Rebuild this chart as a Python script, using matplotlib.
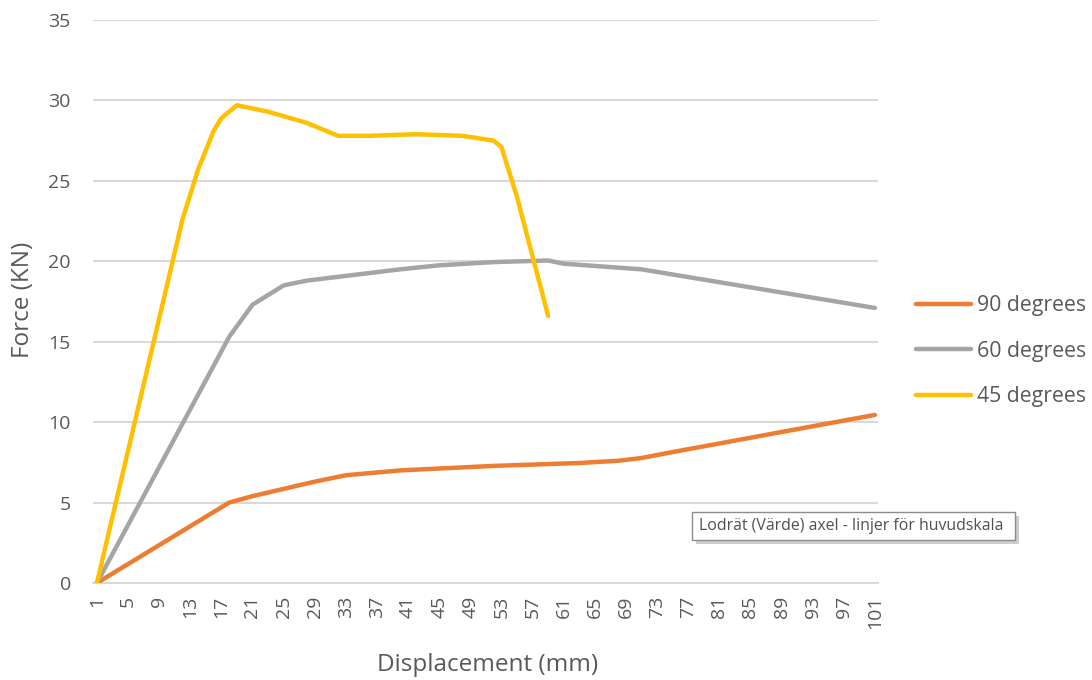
import matplotlib
matplotlib.use("Agg")
import matplotlib.pyplot as plt
from matplotlib.patches import Rectangle
import numpy as np

plt.rcParams['font.family'] = ['Open Sans', 'DejaVu Sans']

# Displacement categories on the horizontal axis
categories = list(range(1, 102))
tick_labels = [str(c) for c in categories[::4]]

# 90 degrees series (category, force in kN)
deg90_x = [1, 18, 21, 25, 29, 33, 40, 52, 63, 68, 71, 75, 85, 95, 101]
deg90_y = [0, 5.0, 5.4, 5.85, 6.3, 6.7, 7.0, 7.28, 7.46, 7.6, 7.77, 8.14, 9.03, 9.92, 10.45]

# 60 degrees series
deg60_x = [1, 18, 21, 25, 28, 34, 40, 45, 52, 59, 61, 71, 86, 101]
deg60_y = [0, 15.3, 17.3, 18.5, 18.8, 19.15, 19.5, 19.75, 19.95, 20.05, 19.85, 19.5, 18.3, 17.1]

# 45 degrees series
deg45_x = [1, 12, 14, 16, 17, 19, 23, 28, 32, 36, 42, 48, 52, 53, 55, 59]
deg45_y = [0, 22.6, 25.7, 28.1, 28.9, 29.7, 29.3, 28.6, 27.8, 27.8, 27.9, 27.8, 27.5, 27.1, 24.0, 16.6]

series_names = ['90 degrees', '60 degrees', '45 degrees']
series_colors = ['#ED7D31', '#A5A5A5', '#FFC000']

text_color = '#595959'
grid_color = '#D9D9D9'

W, H = 1092, 680
fig = plt.figure(figsize=(W / 100, H / 100), dpi=100)
ax = fig.add_axes([93 / W, 1 - 583 / H, (878 - 93) / W, (583 - 20) / H])

for xs, ys, name, col in zip([deg90_x, deg60_x, deg45_x],
                             [deg90_y, deg60_y, deg45_y],
                             series_names, series_colors):
    ax.plot(xs, ys, color=col, lw=3.2, label=name,
            solid_joinstyle='round', solid_capstyle='round', zorder=3)

ax.set_xlim(0.5, 101.4)
ax.set_ylim(0, 35)
ax.set_yticks(np.arange(0, 36, 5))
ax.set_xticks(categories[::4])
ax.set_xticklabels(tick_labels, rotation=90, va='top', ha='center')

ax.yaxis.grid(True, color=grid_color, lw=1.5)
ax.set_axisbelow(True)
for side in ['left', 'right', 'top']:
    ax.spines[side].set_visible(False)
ax.spines['bottom'].set_color(grid_color)
ax.spines['bottom'].set_linewidth(1.5)
ax.tick_params(axis='both', length=0, labelsize=14, labelcolor=text_color)
ax.tick_params(axis='y', pad=16)
ax.tick_params(axis='x', pad=9)

fig.text(23 / W, 1 - 300 / H, 'Force (KN)', rotation=90, ha='center', va='center',
         fontsize=17.5, color=text_color)
fig.text(488 / W, 1 - 665 / H, 'Displacement (mm)', ha='center', va='center',
         fontsize=17.5, color=text_color)

leg = ax.legend(loc='center left', bbox_to_anchor=(916 / W, 1 - 351 / H),
                bbox_transform=fig.transFigure, frameon=False, fontsize=15.3,
                handlelength=2.6, handletextpad=0.25, labelspacing=1.15,
                borderpad=0, borderaxespad=0)
for t in leg.get_texts():
    t.set_color(text_color)
for h in leg.get_lines():
    h.set_linewidth(3.2)

# Hover tooltip for the value-axis gridlines
fig.add_artist(Rectangle((696 / W, 1 - 544 / H), 323 / W, 28 / H,
                         transform=fig.transFigure, facecolor='#B8B8B8',
                         edgecolor='none', alpha=0.7, zorder=5))
fig.add_artist(Rectangle((692 / W, 1 - 540 / H), 323 / W, 28 / H,
                         transform=fig.transFigure, facecolor='white',
                         edgecolor='#8C8C8C', lw=1, zorder=6))
fig.text(699 / W, 1 - 526 / H, 'Lodrät (Värde) axel - linjer för huvudskala',
         ha='left', va='center', fontsize=11.4, color='#505050', zorder=7)

fig.savefig('out.png', dpi=100, facecolor='white')
